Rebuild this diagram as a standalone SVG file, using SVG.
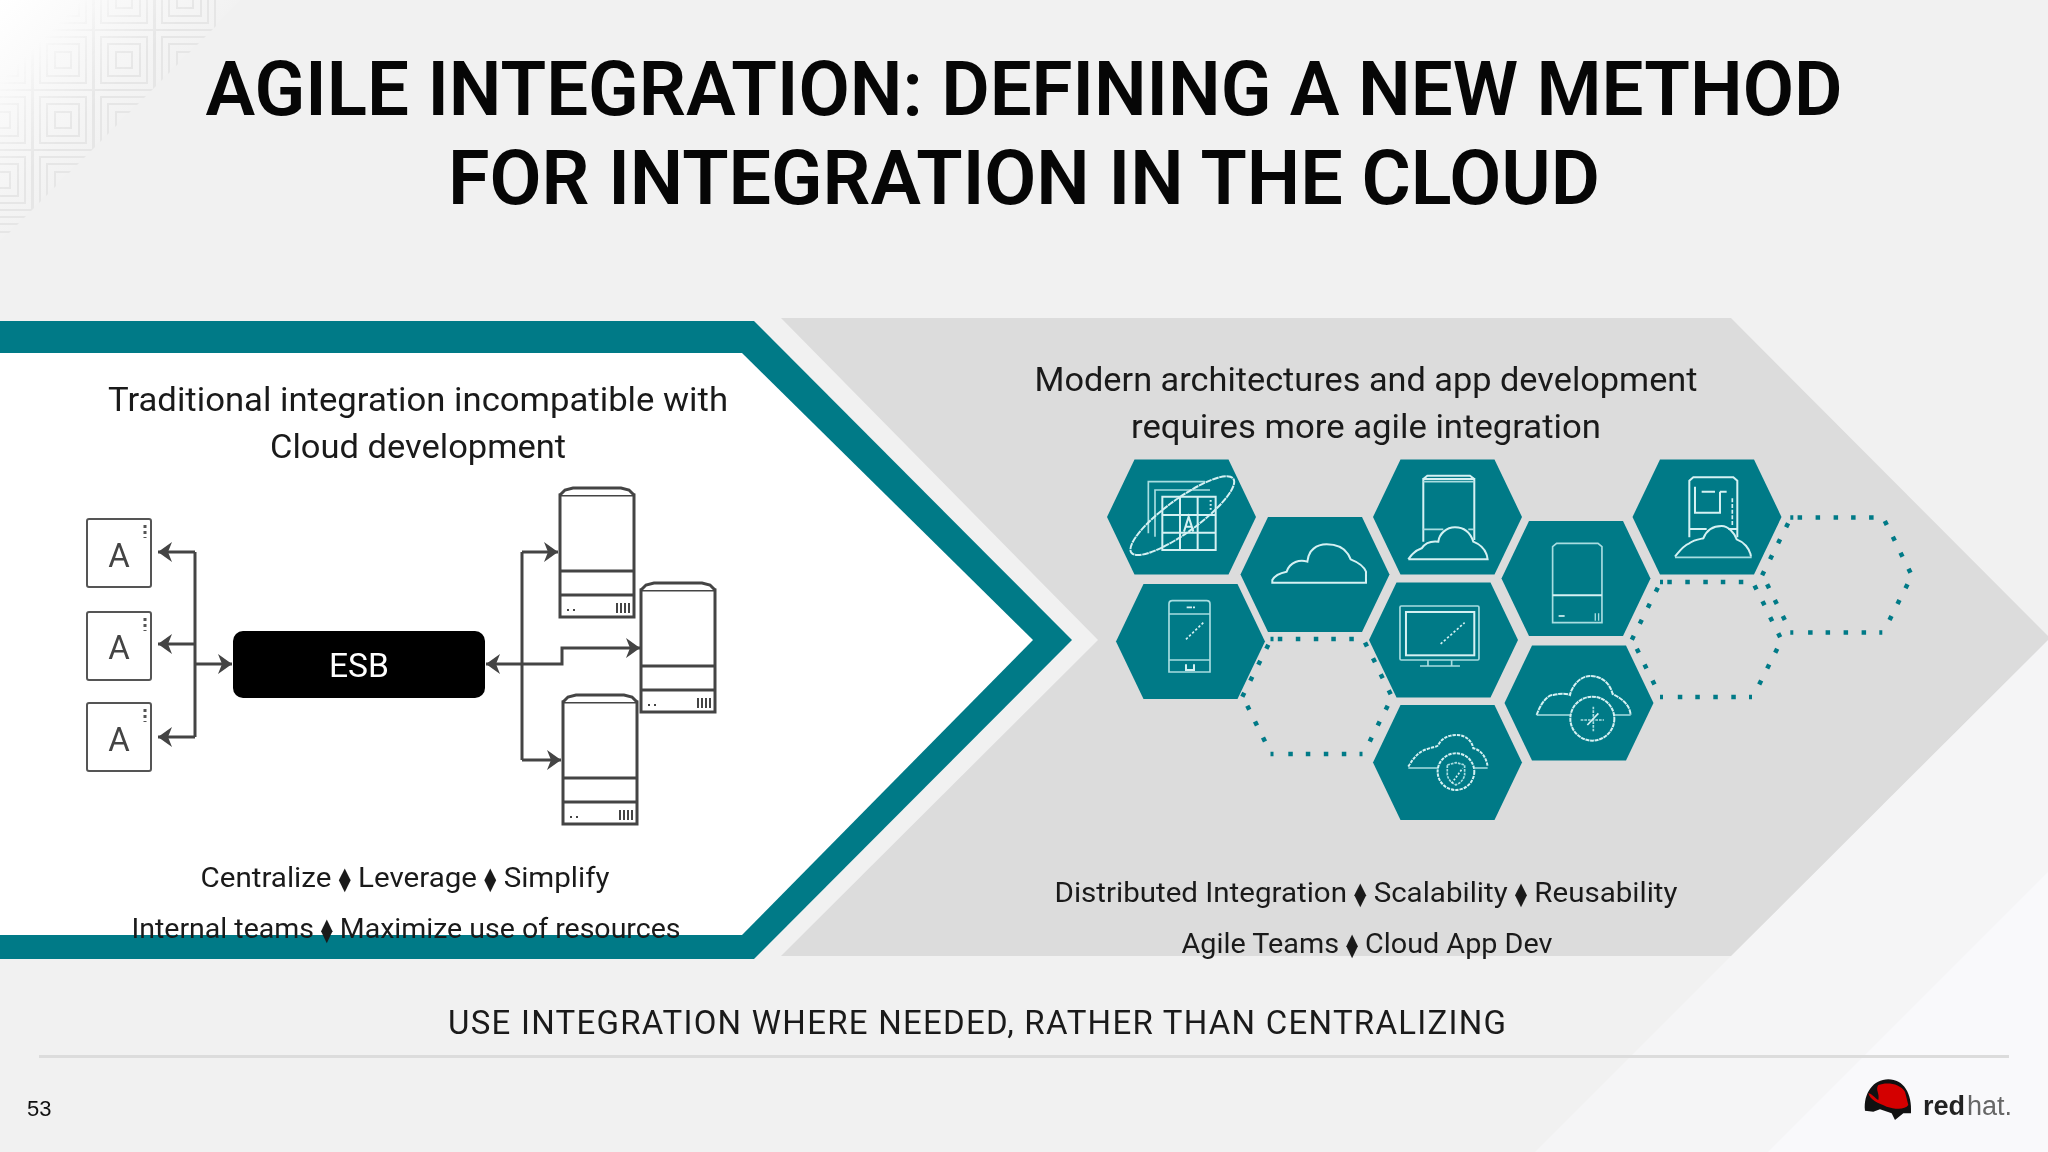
<svg xmlns="http://www.w3.org/2000/svg" xmlns:xlink="http://www.w3.org/1999/xlink" width="2048" height="1152" viewBox="0 0 2048 1152">
<style>
text{font-family:"Roboto","Liberation Sans","DejaVu Sans",sans-serif;fill:#111}
.title{font-size:76px;font-weight:600;fill:#060606;text-anchor:middle}
.body{font-size:33px;text-anchor:middle;fill:#1a1a1a}
.small{font-size:28px;text-anchor:middle;fill:#1a1a1a}
.d{font-size:23px}
.hex{fill:#007a87}
.dot{fill:none;stroke:#007a87;stroke-width:4.5}
.ic{fill:none;stroke:#d5f1f3;stroke-width:6}
.ic2{fill:none;stroke:#a8dde1;stroke-width:5}
.app{fill:#fff;stroke:#555;stroke-width:2}
.srv{fill:#fff;stroke:#444;stroke-width:3}
.conn{fill:none;stroke:#444;stroke-width:3;marker-end:url(#arr)}
.bar{fill:none;stroke:#444;stroke-width:3}
.pat{fill:none;stroke:#e6e6e6;stroke-width:2}
</style>
<defs>
<marker id="arr" markerUnits="userSpaceOnUse" markerWidth="20" markerHeight="24" refX="17" refY="12" orient="auto"><path d="M3 2 L17 12 L3 22 L7 12Z M0 11H8V13H0Z" fill="#444"/></marker>
<linearGradient id="tl" gradientUnits="userSpaceOnUse" x1="0" y1="0" x2="130" y2="130"><stop offset="0" stop-color="#ffffff"/><stop offset="1" stop-color="#f1f1f1"/></linearGradient>
<linearGradient id="fade" gradientUnits="userSpaceOnUse" x1="40" y1="40" x2="100" y2="100"><stop offset="0" stop-color="#000"/><stop offset="1" stop-color="#fff"/></linearGradient>
<mask id="pm"><polygon points="0,0 242,0 0,242" fill="url(#fade)"/></mask>
<polygon id="hx" points="-74.5,0 -47,-57.5 47,-57.5 74.5,0 47,57.5 -47,57.5"/>
<g id="sq"><rect x="-30" y="-30" width="60" height="60"/><rect x="-23" y="-23" width="46" height="46"/><rect x="-16" y="-16" width="32" height="32"/><rect x="-8" y="-8" width="16" height="16"/></g>
<path id="dots" class="dot" d="M-38.7-57.5h4.5M-20.7-57.5h4.5M-2.7-57.5h4.5M14.8-57.5h4.5M32.8-57.5h4.5
M-46-57.5h3M-28.2 57.5h4.5M-10.7 57.5h4.5M7.3 57.5h4.5M25.3 57.5h4.5M43 57.5h3M-46 57.5h3
M-48.2-51.7l-2 4M-56.2-35.7l-2 4M-64.2-19.7l-2 4M-72.2-3.7l-2 4
M-69.2 9.3l2 4M-61.5 25l2 4M-53.5 41l2 4
M48.5-54l2 4M56.5-38.3l2 4M64.2-22.3l2 4M72.2-6.3l2 4
M71.2 9.3l-2 4M63.2 25l-2 4M55.2 41l-2 4"/>
</defs>

<rect width="2048" height="1152" fill="#f1f1f1"/>
<polygon points="0,0 240,0 0,240" fill="url(#tl)"/>
<g mask="url(#pm)" class="pat">
<use xlink:href="#sq" x="2" y="0"/><use xlink:href="#sq" x="63" y="0"/><use xlink:href="#sq" x="124" y="0"/><use xlink:href="#sq" x="185" y="0"/>
<use xlink:href="#sq" x="2" y="60"/><use xlink:href="#sq" x="63" y="60"/><use xlink:href="#sq" x="124" y="60"/><use xlink:href="#sq" x="185" y="60"/>
<use xlink:href="#sq" x="2" y="120"/><use xlink:href="#sq" x="63" y="120"/><use xlink:href="#sq" x="124" y="120"/>
<use xlink:href="#sq" x="2" y="180"/><use xlink:href="#sq" x="63" y="180"/>
<use xlink:href="#sq" x="2" y="240"/>
</g>
<polygon points="2048,639 2048,1152 1535,1152" fill="#f5f5f6"/>
<polygon points="2048,872 2048,1152 1768,1152" fill="#f9f9fb"/>

<text class="title" x="1024" y="115" textLength="1637" lengthAdjust="spacingAndGlyphs">AGILE INTEGRATION: DEFINING A NEW METHOD</text>
<text class="title" x="1024" y="204" textLength="1152" lengthAdjust="spacingAndGlyphs">FOR INTEGRATION IN THE CLOUD</text>

<polygon id="gray-chevron" points="781,318 1731,318 2050,638 1731,956 781,956 1098,640" fill="#dcdcdc"/>
<polygon id="teal-chevron" points="0,321 754,321 1072,640 754,959 0,959" fill="#007a87"/>
<polygon id="white-chevron" points="0,353 742,353 1033,640 742,935 0,935" fill="#fff"/>

<text class="body" x="418" y="411" textLength="620" lengthAdjust="spacingAndGlyphs">Traditional integration incompatible with</text>
<text class="body" x="418" y="458" textLength="296" lengthAdjust="spacingAndGlyphs">Cloud development</text>
<text class="body" x="1366" y="391" textLength="663" lengthAdjust="spacingAndGlyphs">Modern architectures and app development</text>
<text class="body" x="1366" y="438" textLength="470" lengthAdjust="spacingAndGlyphs">requires more agile integration</text>

<g id="connectors">
<path class="bar" d="M195 552V737"/>
<path class="conn" d="M195 552H158"/>
<path class="conn" d="M195 644H158"/>
<path class="conn" d="M195 737H158"/>
<path class="conn" d="M195 664H232"/>
<path class="bar" d="M522 552V760"/>
<path class="conn" d="M522 664H486"/>
<path class="conn" d="M522 552H558"/>
<path class="conn" d="M522 760H561"/>
<path class="conn" d="M522 664H562V648H640"/>
</g>

<g id="app1"><rect class="app" x="87" y="519" width="64" height="68" rx="2"/><text x="119" y="567" font-size="33" text-anchor="middle" style="fill:#444">A</text><path d="M145 525V538" stroke="#555" stroke-width="3" stroke-dasharray="3 3"/></g>
<g id="app2"><rect class="app" x="87" y="612" width="64" height="68" rx="2"/><text x="119" y="659" font-size="33" text-anchor="middle" style="fill:#444">A</text><path d="M145 618V631" stroke="#555" stroke-width="3" stroke-dasharray="3 3"/></g>
<g id="app3"><rect class="app" x="87" y="703" width="64" height="68" rx="2"/><text x="119" y="751" font-size="33" text-anchor="middle" style="fill:#444">A</text><path d="M145 709V722" stroke="#555" stroke-width="3" stroke-dasharray="3 3"/></g>

<g id="esb"><rect x="233" y="631" width="252" height="67" rx="10" fill="#000"/><text x="359" y="677" font-size="33" text-anchor="middle" textLength="60" lengthAdjust="spacingAndGlyphs" style="fill:#fff">ESB</text></g>

<g id="server1" transform="translate(559 487)"><path class="srv" d="M1 8H75V130H1Z"/><path class="srv" d="M1 8L6 3L14 1H62L70 3L75 8" /><path d="M1 84H75" stroke="#444" stroke-width="3"/><path d="M1 108H75" stroke="#444" stroke-width="3"/><path d="M8 123h2m4 0h2" stroke="#444" stroke-width="2"/><path d="M58 116v10m4-10v10m4-10v10m4-10v10" stroke="#444" stroke-width="2"/></g>
<g id="server2" transform="translate(640 582)"><path class="srv" d="M1 8H75V130H1Z"/><path class="srv" d="M1 8L6 3L14 1H62L70 3L75 8" /><path d="M1 84H75" stroke="#444" stroke-width="3"/><path d="M1 108H75" stroke="#444" stroke-width="3"/><path d="M8 123h2m4 0h2" stroke="#444" stroke-width="2"/><path d="M58 116v10m4-10v10m4-10v10m4-10v10" stroke="#444" stroke-width="2"/></g>
<g id="server3" transform="translate(562 694)"><path class="srv" d="M1 8H75V130H1Z"/><path class="srv" d="M1 8L6 3L14 1H62L70 3L75 8" /><path d="M1 84H75" stroke="#444" stroke-width="3"/><path d="M1 108H75" stroke="#444" stroke-width="3"/><path d="M8 123h2m4 0h2" stroke="#444" stroke-width="2"/><path d="M58 116v10m4-10v10m4-10v10m4-10v10" stroke="#444" stroke-width="2"/></g>

<g id="dotted-hexes">
<use xlink:href="#dots" x="1316.5" y="696.5"/>
<use xlink:href="#dots" x="1706" y="639.5"/>
<use xlink:href="#dots" x="1836.3" y="575"/>
</g>

<g id="hex-grid"><use xlink:href="#hx" class="hex" x="1181.5" y="517"/>
<g transform="translate(1090 450) scale(.3333)">
<path class="ic2" d="M175 250V95H345M195 260V120H360"/>
<path class="ic" d="M217 140H377V300H217ZM270 140V300M323 140V300M217 195H377M217 248H377"/>
<ellipse class="ic" cx="277" cy="197" rx="189" ry="50" transform="rotate(-36 277 197)" stroke-dasharray="20 2"/>
<path class="ic" d="M282 245L296 200L310 245M285 230H307"/>
<path d="M362 150V182" stroke="#d5f1f3" stroke-width="6" stroke-dasharray="5 7"/>
</g></g>

<g id="hex-cloud"><use xlink:href="#hx" class="hex" x="1315" y="574.5"/>
<path transform="translate(1090 450) scale(.3333)" class="ic" d="M547 398H828V365C820 345 800 335 782 328C770 295 740 283 710 283C680 283 655 300 652 335C630 328 600 335 590 365C575 368 555 375 547 390Z"/></g>

<g id="hex-server-cloud"><use xlink:href="#hx" class="hex" x="1447.5" y="517"/>
<g transform="translate(1090 450) scale(.3333)">
<path class="ic" d="M1000 275V87H1153V270M1000 87L1012 77H1140L1153 87"/>
<path class="ic2" d="M1000 95H1153M1000 238H1060M1135 238H1153"/>
<path class="ic" d="M955 328H1193C1190 300 1175 285 1150 275C1140 245 1120 232 1095 232C1070 232 1048 250 1045 275C1020 272 1005 280 995 295C980 300 965 312 955 328"/>
</g></g>

<g id="hex-phone"><use xlink:href="#hx" class="hex" x="1190.5" y="641.5"/>
<g transform="translate(1090 450) scale(.3333)">
<path class="ic2" d="M237 462Q237 452 247 452H350Q360 452 360 462V666H237ZM237 492H360M237 630H360"/>
<path class="ic" d="M288 643V660H312V643" /><path d="M290 472H315" stroke="#d5f1f3" stroke-width="5" stroke-dasharray="16 3"/>
<path d="M288 568L340 518" stroke="#d5f1f3" stroke-width="5" stroke-dasharray="7 6"/>
</g></g>

<g id="hex-monitor"><use xlink:href="#hx" class="hex" x="1443.5" y="640"/>
<g transform="translate(1090 450) scale(.3333)">
<rect class="ic2" x="930" y="468" width="237" height="162" rx="4"/>
<rect class="ic" x="948" y="486" width="205" height="130"/>
<path class="ic2" d="M1014 630V648M1085 630V648M990 648H1110"/>
<path d="M1052 582L1124 518" stroke="#d5f1f3" stroke-width="5" stroke-dasharray="7 6"/>
</g></g>

<g id="hex-shield-cloud"><use xlink:href="#hx" class="hex" x="1447.5" y="762.5"/>
<g transform="translate(1090 450) scale(.3333)">
<path class="ic" stroke-dasharray="10 3" d="M955 950C970 925 985 905 1010 898C1030 890 1040 892 1045 885C1055 865 1075 855 1100 855C1125 855 1145 870 1150 895C1175 900 1190 925 1193 950"/>
<path class="ic2" d="M955 954H1045M1155 954H1193"/>
<circle class="ic" cx="1098" cy="965" r="55" stroke-dasharray="10 3"/>
<path class="ic2" d="M1072 945L1098 938L1124 945V975Q1120 995 1098 1005Q1076 995 1072 975Z" stroke-dasharray="8 3"/>
<path d="M1085 1000L1118 955" stroke="#d5f1f3" stroke-width="5" stroke-dasharray="6 5"/>
</g></g>

<g id="hex-server"><use xlink:href="#hx" class="hex" x="1576" y="578.5"/>
<g transform="translate(1090 450) scale(.3333)">
<path class="ic2" d="M1388 518V290L1400 280H1524L1536 290V518Z"/>
<path class="ic" d="M1388 436H1536"/>
<path d="M1406 498H1424" stroke="#d5f1f3" stroke-width="5"/>
<path d="M1516 490V512M1526 490V512" stroke="#a8dde1" stroke-width="4"/>
</g></g>

<g id="hex-cloud-plus"><use xlink:href="#hx" class="hex" x="1579" y="703"/>
<g transform="translate(1560 450) scale(.3333)">
<path class="ic" stroke-dasharray="14 2" d="M-70 795C-60 765 -40 735 -20 735C0 730 20 730 30 735C35 710 60 678 90 678C125 678 150 700 158 732C185 745 210 765 212 795"/>
<path class="ic2" d="M-70 795H30M165 795H212"/>
<circle class="ic" cx="97" cy="806" r="66" stroke-dasharray="12 2"/>
<path class="ic2" d="M62 810H132M100 770V845" stroke-dasharray="8 3"/>
<path d="M82 825L115 790" stroke="#d5f1f3" stroke-width="5"/>
</g></g>

<g id="hex-top-right"><use xlink:href="#hx" class="hex" x="1707" y="517"/>
<g transform="translate(1560 450) scale(.3333)">
<path class="ic" d="M388 262V92L400 82H520L532 92V262M388 237H440M505 237H532"/>
<path class="ic" d="M405 110V188H480V125M425 125H465M480 125H500"/>
<path d="M517 145V225" stroke="#d5f1f3" stroke-width="5" stroke-dasharray="12 5"/>
<path class="ic" d="M345 320C360 300 375 285 388 280C400 270 415 268 430 265C440 240 460 228 485 228C505 228 525 250 530 268C550 275 570 295 573 320"/>
<path class="ic2" d="M345 322H575"/>
</g></g>

<text class="small" x="405" y="887" textLength="409" lengthAdjust="spacingAndGlyphs">Centralize <tspan class="d">⧫</tspan> Leverage <tspan class="d">⧫</tspan> Simplify</text>
<text class="small" x="406" y="938" textLength="549" lengthAdjust="spacingAndGlyphs">Internal teams <tspan class="d">⧫</tspan> Maximize use of resources</text>
<text class="small" x="1366" y="902" textLength="623" lengthAdjust="spacingAndGlyphs">Distributed Integration <tspan class="d">⧫</tspan> Scalability <tspan class="d">⧫</tspan> Reusability</text>
<text class="small" x="1367" y="953" textLength="371" lengthAdjust="spacingAndGlyphs">Agile Teams <tspan class="d">⧫</tspan> Cloud App Dev</text>

<text class="body" x="977" y="1034" textLength="1058" lengthAdjust="spacing">USE INTEGRATION WHERE NEEDED, RATHER THAN CENTRALIZING</text>
<rect x="39" y="1055" width="1970" height="3" fill="#dcdcdc"/>
<text x="27" y="1116" font-size="22" style="font-family:'Liberation Sans',sans-serif">53</text>

<g id="logo">
<g transform="translate(1780 1050) scale(.3333)">
<path d="M255 182C250 130 280 88 325 88C370 88 397 130 393 190H370L345 210L335 190L300 178L280 185Z" fill="#111"/>
<path d="M295 105C320 95 360 100 375 125L385 165C375 180 345 178 320 170C295 160 270 150 265 130C275 130 285 145 295 150C300 130 285 120 295 105Z" fill="#d40000"/>
</g>
<text x="1923" y="1115" font-size="27" style="font-family:'Liberation Sans',sans-serif;fill:#222;font-weight:700">red</text>
<text x="1967" y="1115" font-size="27" style="font-family:'Liberation Sans',sans-serif;fill:#666">hat.</text>
</g>
</svg>
